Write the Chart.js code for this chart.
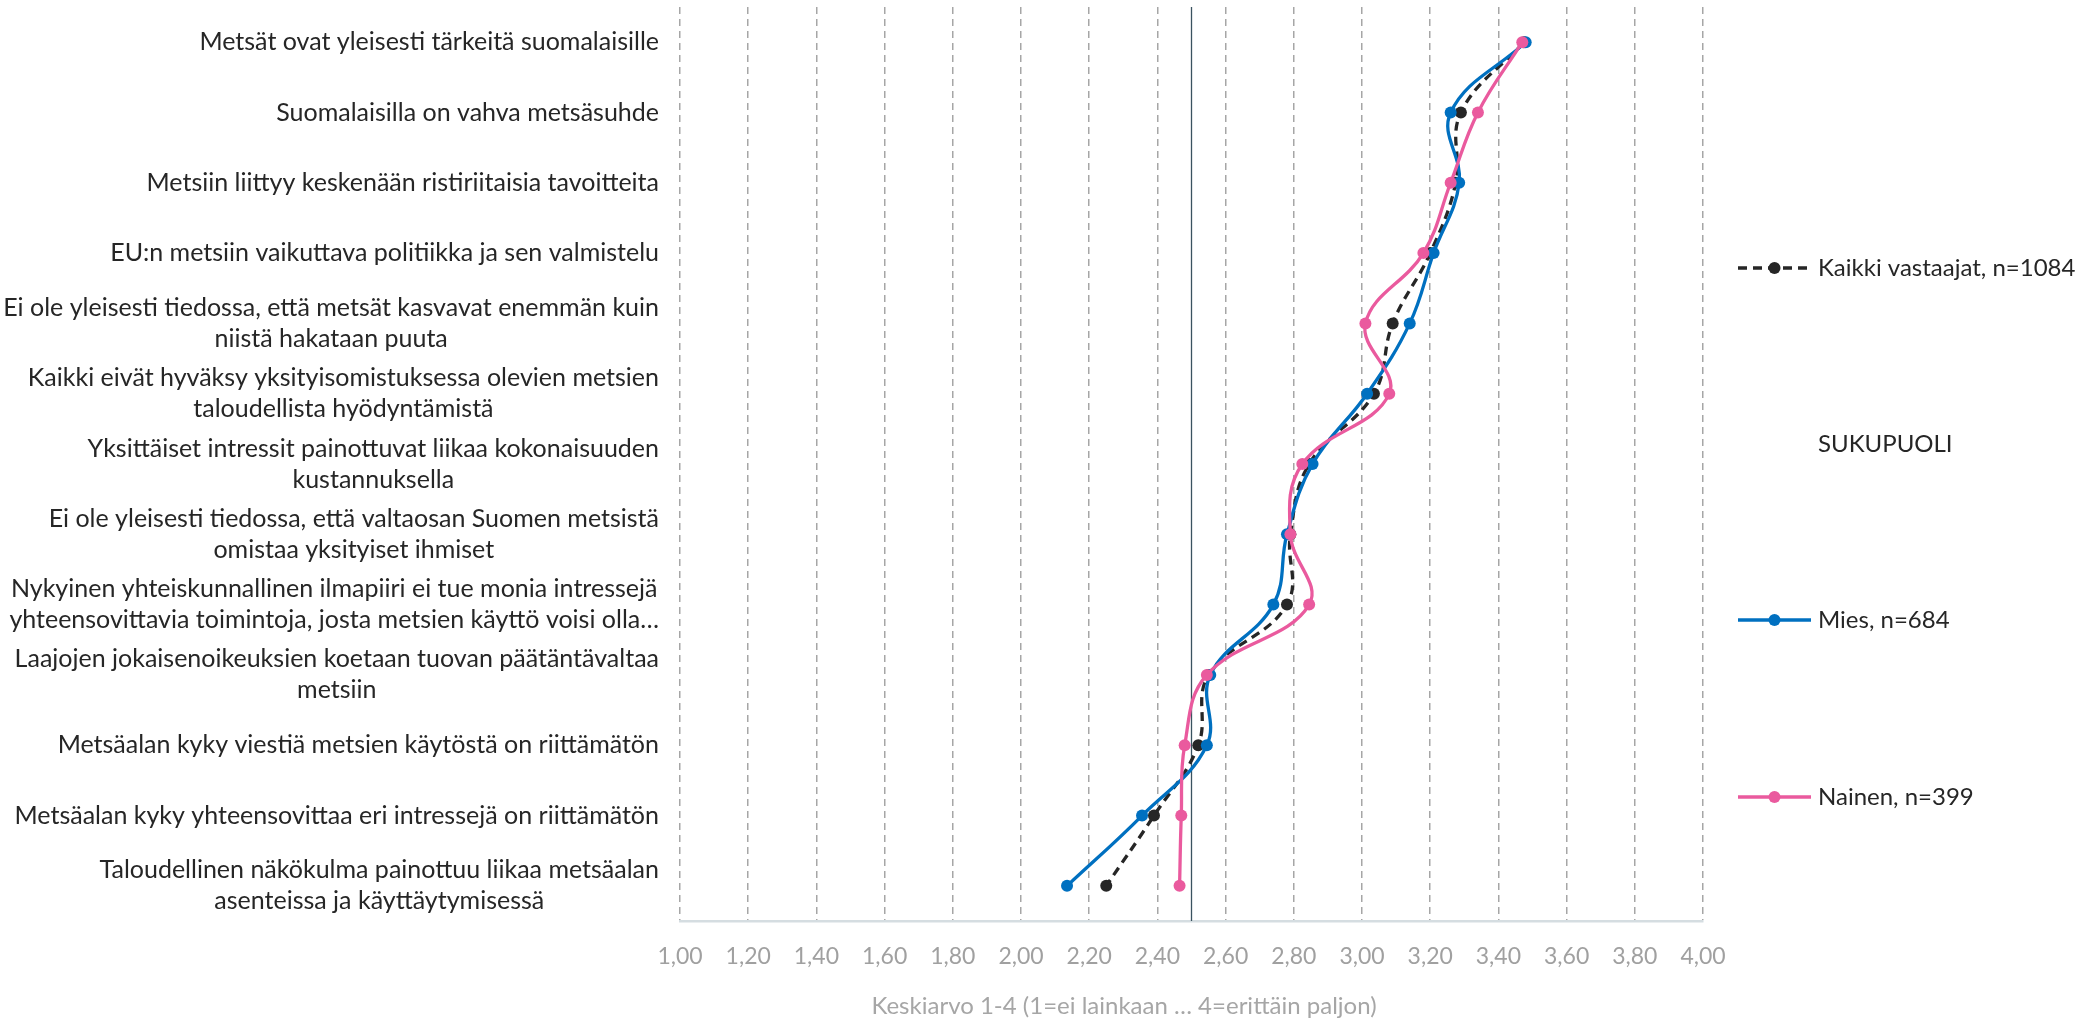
<!DOCTYPE html>
<html>
<head>
<meta charset="utf-8">
<script src="https://cdn.jsdelivr.net/npm/chart.js@4.4.0/dist/chart.umd.min.js"></script>
<style>
  html, body { margin: 0; padding: 0; background: #fff; }
  #wrap { width: 2080px; height: 1023px; }
</style>
</head>
<body>
<div id="wrap"><canvas id="chart" width="2080" height="1023"></canvas></div>
<script>
const categories = [
  "Metsät ovat yleisesti tärkeitä suomalaisille",
  "Suomalaisilla on vahva metsäsuhde",
  "Metsiin liittyy keskenään ristiriitaisia tavoitteita",
  "EU:n metsiin vaikuttava politiikka ja sen valmistelu",
  ["Ei ole yleisesti tiedossa, että metsät kasvavat enemmän kuin", "niistä hakataan puuta"],
  ["Kaikki eivät hyväksy yksityisomistuksessa olevien metsien", "taloudellista hyödyntämistä"],
  ["Yksittäiset intressit painottuvat liikaa kokonaisuuden", "kustannuksella"],
  ["Ei ole yleisesti tiedossa, että valtaosan Suomen metsistä", "omistaa yksityiset ihmiset"],
  ["Nykyinen yhteiskunnallinen ilmapiiri ei tue monia intressejä", "yhteensovittavia toimintoja, josta metsien käyttö voisi olla…"],
  ["Laajojen jokaisenoikeuksien koetaan tuovan päätäntävaltaa", "metsiin"],
  "Metsäalan kyky viestiä metsien käytöstä on riittämätön",
  "Metsäalan kyky yhteensovittaa eri intressejä on riittämätön",
  ["Taloudellinen näkökulma painottuu liikaa metsäalan", "asenteissa ja käyttäytymisessä"]
];

const kaikki = [3.475, 3.29, 3.275, 3.20, 3.09, 3.035, 2.845, 2.79, 2.78, 2.55, 2.52, 2.39, 2.25];
const mies   = [3.48, 3.26, 3.285, 3.21, 3.14, 3.015, 2.855, 2.78, 2.74, 2.555, 2.545, 2.355, 2.135];
const nainen = [3.47, 3.34, 3.26, 3.18, 3.01, 3.08, 2.825, 2.79, 2.845, 2.545, 2.48, 2.47, 2.465];

const seriesNames = ["Kaikki vastaajat, n=1084", "Mies, n=684", "Nainen, n=399"];
const groupTitle = "SUKUPUOLI";
const axisTitle = "Keskiarvo 1-4 (1=ei lainkaan … 4=erittäin paljon)";
const xMin = 1, xMax = 4, xStep = 0.2;
const refValue = 2.5;

const FONT = "Lato";
const TEXT = "#262626";

// category labels: block right aligned, lines centred inside the block (like excel)
const categoryLabels = {
  id: "categoryLabels",
  afterDraw(chart) {
    const ctx = chart.ctx;
    const y = chart.scales.y;
    ctx.save();
    ctx.font = "25px " + FONT;
    ctx.fillStyle = TEXT;
    ctx.textAlign = "center";
    ctx.textBaseline = "middle";
    chart.data.labels.forEach((lab, i) => {
      const lines = Array.isArray(lab) ? lab : [lab];
      const w = Math.max(...lines.map(l => ctx.measureText(l).width));
      const cx = 659 - w / 2;
      const cy = y.getPixelForValue(i);
      lines.forEach((l, k) => {
        ctx.fillText(l, cx, cy + (k - (lines.length - 1) / 2) * 31);
      });
    });
    ctx.restore();
  }
};

const refLine = {
  id: "refLine",
  beforeDatasetsDraw(chart) {
    const ctx = chart.ctx;
    const x = chart.scales.x.getPixelForValue(refValue);
    const a = chart.chartArea;
    ctx.save();
    ctx.strokeStyle = "#3a5360";
    ctx.lineWidth = 1.3;
    ctx.beginPath();
    ctx.moveTo(x, a.top);
    ctx.lineTo(x, a.bottom);
    ctx.stroke();
    ctx.restore();
  }
};

const xTitle = {
  id: "xTitle",
  afterDraw(chart) {
    const ctx = chart.ctx;
    ctx.save();
    ctx.font = "24px " + FONT;
    ctx.fillStyle = "#a6a6a6";
    ctx.textAlign = "center";
    ctx.textBaseline = "middle";
    ctx.fillText(axisTitle, 1124, 1006);
    ctx.restore();
  }
};

const sideLegend = {
  id: "sideLegend",
  afterDraw(chart) {
    const ctx = chart.ctx;
    const rows = [{ ds: 0, y: 268 }, { title: groupTitle, y: 444 }, { ds: 1, y: 620 }, { ds: 2, y: 797 }];
    ctx.save();
    ctx.font = "24px " + FONT;
    ctx.textBaseline = "middle";
    ctx.textAlign = "left";
    rows.forEach(r => {
      if (r.title) {
        ctx.fillStyle = TEXT;
        ctx.fillText(r.title, 1818, r.y);
        return;
      }
      const d = chart.data.datasets[r.ds];
      ctx.strokeStyle = d.borderColor;
      ctx.lineWidth = d.borderWidth;
      ctx.setLineDash(d.borderDash || []);
      ctx.beginPath();
      ctx.moveTo(1738, r.y);
      ctx.lineTo(1811, r.y);
      ctx.stroke();
      ctx.setLineDash([]);
      ctx.fillStyle = d.borderColor;
      ctx.beginPath();
      ctx.arc(1774.5, r.y, d.pointRadius, 0, Math.PI * 2);
      ctx.fill();
      ctx.fillStyle = TEXT;
      ctx.fillText(d.label, 1818, r.y);
    });
    ctx.restore();
  }
};

function series(name, data, color, dash, order) {
  return {
    label: name,
    data: data,
    borderColor: color,
    backgroundColor: color,
    borderWidth: 3.3,
    borderDash: dash,
    pointRadius: 6,
    pointBorderWidth: 0,
    pointBackgroundColor: color,
    tension: 0.4,
    fill: false,
    order: order
  };
}

new Chart(document.getElementById("chart"), {
  type: "line",
  data: {
    labels: categories,
    datasets: [
      series(seriesNames[0], kaikki, "#262626", [9, 6], 3),
      series(seriesNames[1], mies, "#0070c0", [], 2),
      series(seriesNames[2], nainen, "#ea5a9e", [], 1)
    ]
  },
  options: {
    indexAxis: "y",
    responsive: false,
    animation: false,
    layout: { padding: { top: 7, right: 377, left: 0, bottom: 0 } },
    plugins: { legend: { display: false }, tooltip: { enabled: false } },
    scales: {
      x: {
        type: "linear",
        min: xMin,
        max: xMax,
        ticks: {
          stepSize: xStep,
          color: "#a0a0a0",
          font: { family: FONT, size: 23 },
          padding: 22,
          callback: v => v.toFixed(2).replace(".", ",")
        },
        grid: { color: "#a6a6a6", lineWidth: 1.5, drawTicks: false },
        border: { color: "#d5dde1", width: 2.5, dash: [7, 5] },
        afterFit: s => { s.height = 102; }
      },
      y: {
        type: "category",
        offset: true,
        ticks: { display: false },
        grid: { display: false },
        border: { display: false },
        afterFit: s => { s.width = 680; }
      }
    }
  },
  plugins: [categoryLabels, refLine, xTitle, sideLegend]
});
</script>
</body>
</html>
